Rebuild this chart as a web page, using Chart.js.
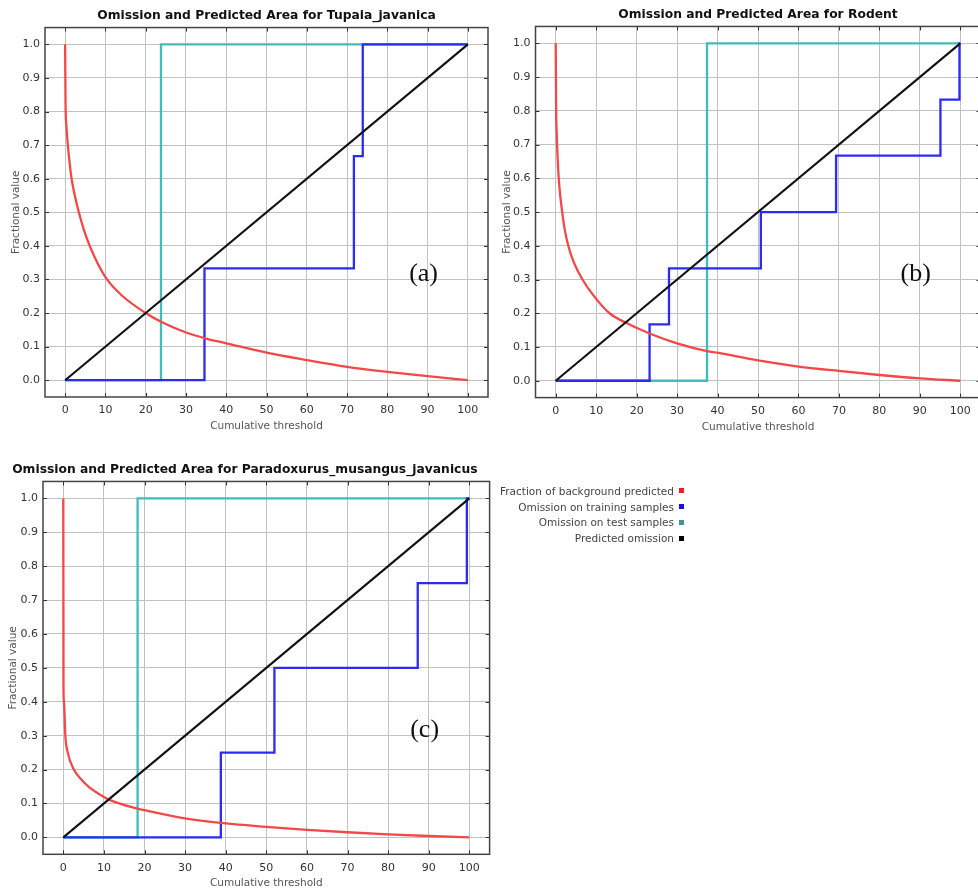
<!DOCTYPE html>
<html>
<head>
<meta charset="utf-8">
<title>Omission and Predicted Area</title>
<script src="https://cdn.jsdelivr.net/npm/chart.js@4.4.0/dist/chart.umd.min.js"></script>
<style>
  html, body {
    margin: 0;
    padding: 0;
    width: 978px;
    height: 890px;
    overflow: hidden;
    background: #ffffff;
  }
  canvas {
    position: absolute;
  }
  #legend {
    position: absolute;
    left: 470px;
    top: 483px;
    width: 214px;
    font-family: "DejaVu Sans", sans-serif;
    font-size: 10.5px;
    color: #444;
    z-index: 2;
  }
  .legendRow {
    display: flex;
    justify-content: flex-end;
    align-items: center;
    height: 15.8px;
  }
  .legendBox {
    width: 5px;
    height: 5px;
    margin-left: 5px;
  }
</style>
</head>
<body>
<canvas id="chartTupaia"></canvas>
<canvas id="chartRodent"></canvas>
<canvas id="chartParadoxurus"></canvas>
<div id="legend"></div>

<script>
const xTicks = [0, 10, 20, 30, 40, 50, 60, 70, 80, 90, 100];
const yTicks = [0, 0.1, 0.2, 0.3, 0.4, 0.5, 0.6, 0.7, 0.8, 0.9, 1.0];

const seriesNames = [
  "Fraction of background predicted",
  "Omission on training samples",
  "Omission on test samples",
  "Predicted omission",
];
const seriesColors = ["#f24848", "#2b2bf2", "#3fbdbd", "#111111"];
const legendColors = ["#e82020", "#1414d8", "#3f9595", "#000000"];

const predictedOmission = [[0, 0], [100, 1]];

// Tupaia_javanica
const tupaiaBackground = [
  [0, 1.0], [0.1, 0.82], [0.3, 0.76], [0.6, 0.71], [1.0, 0.66], [1.6, 0.6],
  [2.4, 0.55], [3.4, 0.5], [4.6, 0.45], [6.1, 0.4], [8.0, 0.35], [10.4, 0.3],
  [14.3, 0.25], [20, 0.2], [23.8, 0.174], [30, 0.142], [35, 0.124], [40, 0.11],
  [50, 0.082], [60, 0.06], [70, 0.04], [80, 0.025], [90, 0.012], [100, 0],
];
const tupaiaTraining = [[0, 0], [34.6, 0.333], [71.7, 0.667], [73.9, 1], [100, 1]];
const tupaiaTest = [[0, 0], [23.8, 1], [100, 1]];

// Rodent
const rodentBackground = [
  [0, 1.0], [0.1, 0.8], [0.2, 0.75], [0.33, 0.7], [0.5, 0.65], [0.74, 0.6],
  [1.1, 0.55], [1.6, 0.5], [2.2, 0.45], [3.1, 0.4], [4.5, 0.35], [6.6, 0.3],
  [9.5, 0.25], [13.3, 0.2], [17.5, 0.171], [23.2, 0.14], [30, 0.111],
  [37.4, 0.088], [40, 0.083], [50, 0.06], [60, 0.042], [70, 0.029],
  [80, 0.017], [90, 0.007], [100, 0],
];
const rodentTraining = [
  [0, 0], [23.2, 0.167], [28, 0.333], [50.7, 0.5], [69.3, 0.667],
  [95.1, 0.833], [99.8, 1], [100, 1],
];
const rodentTest = [[0, 0], [37.4, 1], [100, 1]];

// Paradoxurus_musangus_javanicus
const paradoxurusBackground = [
  [0, 1.0], [0.05, 0.44], [0.16, 0.4], [0.5, 0.3], [1.1, 0.25], [2.6, 0.2],
  [4.5, 0.17], [6.2, 0.15], [9.9, 0.12], [11.5, 0.11], [18.5, 0.084],
  [20, 0.08], [30, 0.056], [40, 0.041], [50, 0.031], [60, 0.022],
  [70, 0.015], [80, 0.009], [90, 0.004], [100, 0],
];
const paradoxurusTraining = [[0, 0], [38.8, 0.25], [52, 0.5], [87.3, 0.75], [99.4, 1], [100, 1]];
const paradoxurusTest = [[0, 0], [18.3, 1], [100, 1]];

function toPoints(pairs) {
  return pairs.map((p) => ({ x: p[0], y: p[1] }));
}

// frame, inward tick marks and the panel letter
const framePlugin = {
  id: "frame",
  afterDatasetsDraw(chart, args, opts) {
    const ctx = chart.ctx;
    const area = chart.chartArea;
    const xs = chart.scales.x;
    const ys = chart.scales.y;
    ctx.save();
    ctx.strokeStyle = "#333";
    ctx.lineWidth = 1;
    ctx.beginPath();
    xTicks.forEach((v) => {
      const px = Math.round(xs.getPixelForValue(v)) + 0.5;
      ctx.moveTo(px, area.top);
      ctx.lineTo(px, area.top + 4);
      ctx.moveTo(px, area.bottom);
      ctx.lineTo(px, area.bottom - 4);
    });
    yTicks.forEach((v) => {
      const py = Math.round(ys.getPixelForValue(v)) + 0.5;
      ctx.moveTo(area.left, py);
      ctx.lineTo(area.left + 4, py);
      ctx.moveTo(area.right, py);
      ctx.lineTo(area.right - 4, py);
    });
    ctx.stroke();
    ctx.strokeStyle = "#444";
    ctx.lineWidth = 1.5;
    ctx.strokeRect(area.left, area.top, area.right - area.left, area.bottom - area.top);

    ctx.fillStyle = "#111";
    ctx.font = "26px 'Liberation Serif', serif";
    ctx.textAlign = "center";
    ctx.textBaseline = "middle";
    ctx.fillText(opts.label, xs.getPixelForValue(89), ys.getPixelForValue(0.315));
    ctx.restore();
  },
};

function makeChart(id, box, cfg) {
  const canvas = document.getElementById(id);
  canvas.style.left = box.left + "px";
  canvas.style.top = box.top + "px";
  canvas.style.width = box.width + "px";
  canvas.style.height = box.height + "px";
  canvas.width = box.width;
  canvas.height = box.height;

  const lines = [
    { data: predictedOmission, color: seriesColors[3], width: 2.1, stepped: false },
    { data: cfg.background, color: seriesColors[0], width: 2.3, stepped: false, smooth: true },
    { data: cfg.training, color: seriesColors[1], width: 2.3, stepped: true },
    { data: cfg.test, color: seriesColors[2], width: 2.3, stepped: true },
  ];
  const names = [seriesNames[3], seriesNames[0], seriesNames[1], seriesNames[2]];

  return new Chart(canvas.getContext("2d"), {
    type: "line",
    data: {
      datasets: lines.map((l, i) => ({
        label: names[i],
        data: toPoints(l.data),
        borderColor: l.color,
        borderWidth: l.width,
        pointRadius: 0,
        fill: false,
        stepped: l.stepped,
        cubicInterpolationMode: l.smooth ? "monotone" : "default",
      })),
    },
    options: {
      responsive: false,
      animation: false,
      layout: { padding: { left: 0, right: cfg.padRight, top: 0, bottom: 0 } },
      plugins: {
        legend: { display: false },
        tooltip: { enabled: false },
        title: {
          display: true,
          text: cfg.title,
          fullSize: cfg.titleFull,
          color: "#111",
          font: { family: "'DejaVu Sans', sans-serif", size: 12.3, weight: "bold" },
          padding: { top: cfg.titleTop, bottom: cfg.titleBottom },
        },
        frame: { label: cfg.label },
      },
      scales: {
        x: {
          type: "linear",
          min: -5,
          max: 105,
          afterFit: (scale) => {
            scale.height = cfg.xHeight;
          },
          afterBuildTicks: (scale) => {
            scale.ticks = xTicks.map((v) => ({ value: v }));
          },
          grid: { color: "#c2c2c2", lineWidth: 1, drawTicks: false },
          border: { display: false },
          ticks: {
            padding: 7,
            color: "#333",
            font: { family: "'DejaVu Sans', sans-serif", size: 11 },
            maxRotation: 0,
            callback: (v) => String(v),
          },
          title: {
            display: true,
            text: "Cumulative threshold",
            color: "#555",
            font: { family: "'DejaVu Sans', sans-serif", size: 10.5 },
            padding: { top: 0, bottom: cfg.xTitleBottom },
          },
        },
        y: {
          type: "linear",
          min: -0.05,
          max: 1.05,
          afterFit: (scale) => {
            scale.width = cfg.yWidth;
          },
          afterBuildTicks: (scale) => {
            scale.ticks = yTicks.map((v) => ({ value: v }));
          },
          grid: { color: "#c2c2c2", lineWidth: 1, drawTicks: false },
          border: { display: false },
          ticks: {
            padding: 5,
            color: "#333",
            font: { family: "'DejaVu Sans', sans-serif", size: 11 },
            callback: (v) => Number(v).toFixed(1),
          },
          title: {
            display: true,
            text: "Fractional value",
            color: "#555",
            font: { family: "'DejaVu Sans', sans-serif", size: 10.5 },
            padding: { top: cfg.yTitleLeft, bottom: 0 },
          },
        },
      },
    },
    plugins: [framePlugin],
  });
}

document.addEventListener("DOMContentLoaded", function () {
  makeChart("chartTupaia", { left: 0, top: 0, width: 490, height: 440 }, {
    title: "Omission and Predicted Area for Tupaia_javanica",
    label: "(a)",
    background: tupaiaBackground,
    training: tupaiaTraining,
    test: tupaiaTest,
    titleFull: false,
    titleTop: 8.8,
    titleBottom: 4,
    padRight: 2,
    yWidth: 45,
    xHeight: 43,
    xTitleBottom: 7,
    yTitleLeft: 10.4,
  });

  makeChart("chartRodent", { left: 488, top: 0, width: 493, height: 440 }, {
    title: "Omission and Predicted Area for Rodent",
    label: "(b)",
    background: rodentBackground,
    training: rodentTraining,
    test: rodentTest,
    titleFull: false,
    titleTop: 7.6,
    titleBottom: 4.1,
    padRight: 0.5,
    yWidth: 47.5,
    xHeight: 42.4,
    xTitleBottom: 6.4,
    yTitleLeft: 12.7,
  });

  makeChart("chartParadoxurus", { left: 0, top: 455, width: 533, height: 440 }, {
    title: "Omission and Predicted Area for Paradoxurus_musangus_javanicus",
    label: "(c)",
    background: paradoxurusBackground,
    training: paradoxurusTraining,
    test: paradoxurusTest,
    titleFull: true,
    titleTop: 7.6,
    titleBottom: 4.1,
    padRight: 43.4,
    yWidth: 43,
    xHeight: 40.7,
    xTitleBottom: 5.7,
    yTitleLeft: 7,
  });

  const legend = document.getElementById("legend");
  seriesNames.forEach((name, i) => {
    const row = document.createElement("div");
    row.className = "legendRow";
    const text = document.createElement("span");
    text.innerText = name;
    const box = document.createElement("span");
    box.className = "legendBox";
    box.style.background = legendColors[i];
    row.appendChild(text);
    row.appendChild(box);
    legend.appendChild(row);
  });
});
</script>
</body>
</html>
